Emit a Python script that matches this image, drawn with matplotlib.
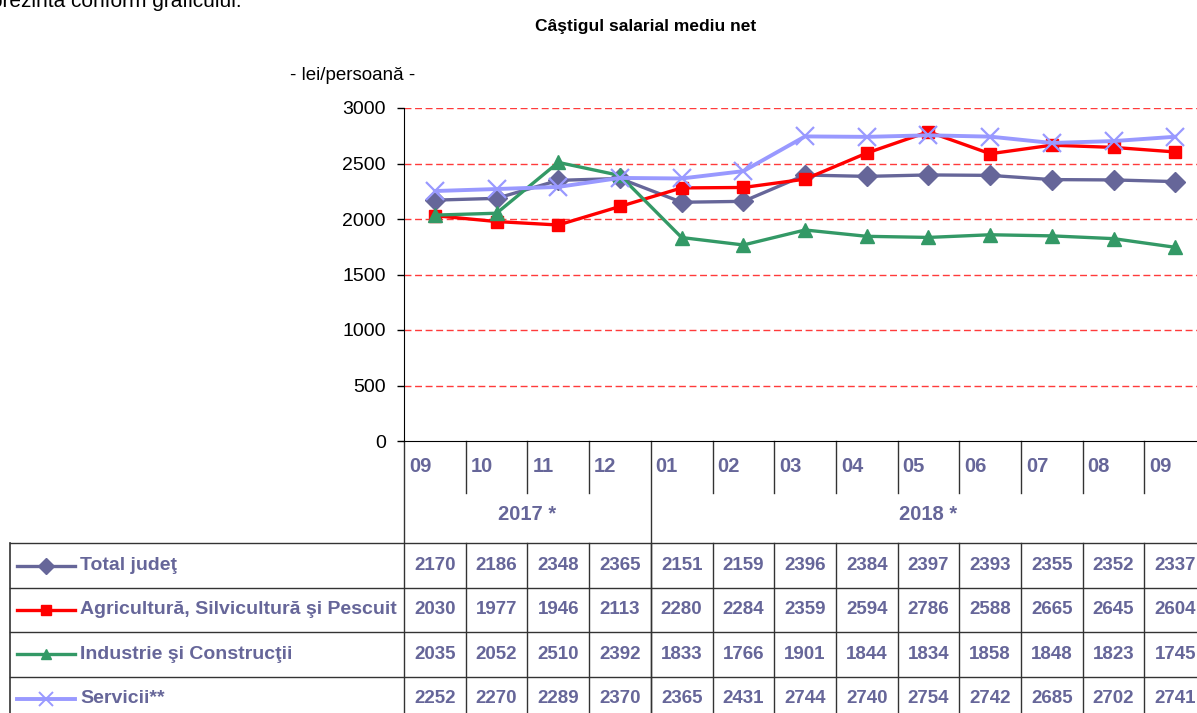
import matplotlib
matplotlib.use("Agg")
import matplotlib.pyplot as plt
from matplotlib.transforms import blended_transform_factory
import numpy as np

plt.rcParams['font.family'] = ['Liberation Sans Narrow', 'Liberation Sans', 'DejaVu Sans']

# data
months = ["09", "10", "11", "12", "01", "02", "03", "04", "05", "06", "07", "08", "09"]
years = ["2017 *", "2018 *"]
year_spans = [(0, 4), (4, 13)]
series_names = ["Total judeţ", "Agricultură, Silvicultură şi Pescuit",
                "Industrie şi Construcţii", "Servicii**"]
total = [2170, 2186, 2348, 2365, 2151, 2159, 2396, 2384, 2397, 2393, 2355, 2352, 2337]
agri = [2030, 1977, 1946, 2113, 2280, 2284, 2359, 2594, 2786, 2588, 2665, 2645, 2604]
industrie = [2035, 2052, 2510, 2392, 1833, 1766, 1901, 1844, 1834, 1858, 1848, 1823, 1745]
servicii = [2252, 2270, 2289, 2370, 2365, 2431, 2744, 2740, 2754, 2742, 2685, 2702, 2741]
all_series = [total, agri, industrie, servicii]

# styles per series
colors = ["#666699", "#FF0000", "#339966", "#9999FF"]
markers = ["D", "s", "^", "x"]
msizes = [10, 8.5, 9.5, 13]
lws = [2.4, 2.4, 2.4, 2.8]
txt_col = "#666699"
grid_col = "#333333"

W, H = 1197, 713
fig = plt.figure(figsize=(W / 100, H / 100), dpi=100)

# overlay in pixel coords for table & texts
over = fig.add_axes([0, 0, 1, 1])
over.set_xlim(0, W)
over.set_ylim(H, 0)
over.axis("off")

# chart area (right edge runs beyond the picture)
x0, ytop, ybot, cw = 404, 108, 441, 61.7
ax = fig.add_axes([x0 / W, (H - ybot) / H, 13 * cw / W, (ybot - ytop) / H])
ax.patch.set_alpha(0)
x = np.arange(len(months))
ax.set_xlim(-0.5, len(months) - 0.5)
ax.set_ylim(0, 3000)
ax.set_yticks(np.arange(0, 3001, 500))
ax.set_xticks([])
for v in range(500, 3001, 500):
    ax.axhline(v, color="#FF3B3B", lw=1, dashes=(5, 2.6), zorder=0)
for s in ["top", "right"]:
    ax.spines[s].set_visible(False)
ax.spines["left"].set_color("black")
ax.spines["bottom"].set_color("black")
ax.tick_params(axis="y", direction="out", length=5, width=1, labelsize=14, pad=8)

for vals, c, m, ms, lw in zip(all_series, colors, markers, msizes, lws):
    ax.plot(x, vals, color=c, lw=lw, marker=m, ms=ms, mfc=c, mec=c,
            mew=1.6 if m == "x" else 1, clip_on=False)

# texts above (first line is cut by the top edge, as in the source page)
over.text(-9, 7, "prezintă conform graficului:", fontsize=15,
          family=["Liberation Sans", "DejaVu Sans"], ha="left", va="baseline")
over.text(646, 27, "Câştigul salarial mediu net", fontsize=12.5, fontweight="bold",
          ha="center", va="center")
over.text(290, 75, "- lei/persoană -", fontsize=13.5, ha="left", va="center")

# table under the chart
tr = blended_transform_factory(ax.transData, over.transData)
y_month_bot, y_year_bot = 493, 543
row_lines = [543, 588, 632, 676.5, 721]

def seg(xs, ys, **kw):
    over.plot(xs, ys, color=grid_col, lw=1, transform=tr, clip_on=False, **kw)

# month row separators
for b in range(1, len(months)):
    if any(b == s for s, _ in year_spans):
        continue
    seg([b - 0.5, b - 0.5], [ybot, y_month_bot])
for s, e in year_spans:
    seg([s - 0.5, s - 0.5], [ybot, H + 5])
for b in range(1, len(months) + 1):
    seg([b - 0.5, b - 0.5], [y_year_bot, H + 5])
for i, mth in enumerate(months):
    over.text(i - 0.42, 466, mth, transform=tr, fontsize=14.5, fontweight="bold",
              color=txt_col, ha="left", va="center")
for (s, e), yr in zip(year_spans, years):
    over.text((s + e - 1) / 2, 515, yr, transform=tr, fontsize=14.5, fontweight="bold",
              color=txt_col, ha="center", va="center")

# data rows
for yl in row_lines:
    over.plot([10, W + 10], [yl, yl], color=grid_col, lw=1, clip_on=False)
over.plot([10, 10], [row_lines[0], H + 5], color=grid_col, lw=1.2)
for r, (name, vals) in enumerate(zip(series_names, all_series)):
    yc = (row_lines[r] + row_lines[r + 1]) / 2
    over.plot([17, 75], [yc, yc], color=colors[r], lw=lws[r])
    over.plot([46], [yc], color=colors[r], marker=markers[r], ms=msizes[r] * 0.8,
              mfc=colors[r], mec=colors[r], mew=1.4 if markers[r] == "x" else 1)
    over.text(80, yc, name, fontsize=14, fontweight="bold", color=txt_col,
              ha="left", va="center")
    for i, v in enumerate(vals):
        over.text(i, yc, str(v), transform=tr, fontsize=13.5, fontweight="bold",
                  color=txt_col, ha="center", va="center")

fig.savefig("out.png", dpi=100)
